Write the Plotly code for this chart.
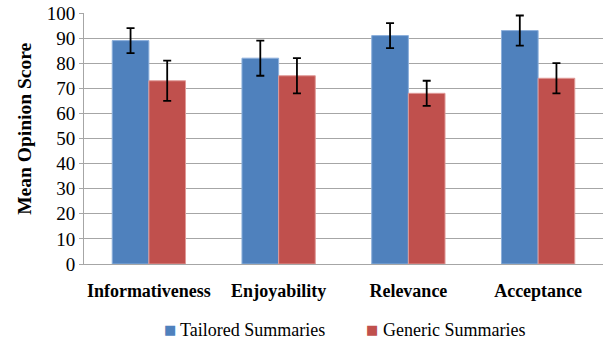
import plotly.graph_objects as go

categories = ["Informativeness", "Enjoyability", "Relevance", "Acceptance"]
series_names = ["Tailored Summaries", "Generic Summaries"]
tailored = [89, 82, 91, 93]
tailored_err = [5, 7, 5, 6]
generic = [73, 75, 68, 74]
generic_err = [8, 7, 5, 6]
y_ticks = list(range(0, 101, 10))

SERIF = "Liberation Serif"
COLORS = ["#4F81BD", "#C0504D"]
EDGES = ["#8DB0DC", "#E09A98"]

fig = go.Figure()
for name, vals, errs, col, edge in zip(series_names, [tailored, generic], [tailored_err, generic_err], COLORS, EDGES):
    fig.add_trace(go.Bar(
        name=name, x=categories, y=vals, showlegend=False,
        marker=dict(color=col, line=dict(color=edge, width=1)),
        error_y=dict(type="data", array=errs, color="black", thickness=1.8, width=4),
    ))

fig.add_annotation(
    text="<b>Mean Opinion Score</b>", textangle=-90,
    xref="paper", yref="paper", x=-0.114, y=0.538,
    xanchor="center", yanchor="middle", showarrow=False,
    font=dict(size=19.5, family=SERIF, color="black"),
)

# legend drawn as text (square swatch + label)
PLOT_L, PLOT_W = 84, 519
legend_y = -0.263
for name, col, sq_px, tx_px in zip(series_names, COLORS, [170, 372], [178, 381]):
    fig.add_annotation(text="■", xref="paper", yref="paper",
                       x=(sq_px - PLOT_L) / PLOT_W, y=legend_y + 0.004,
                       xanchor="center", yanchor="middle", showarrow=False,
                       font=dict(size=13, family="DejaVu Sans", color=col))
    fig.add_annotation(text=name, xref="paper", yref="paper",
                       x=(tx_px - PLOT_L) / PLOT_W, y=legend_y,
                       xanchor="left", yanchor="middle", showarrow=False,
                       font=dict(size=18, family=SERIF, color="black"))

fig.update_layout(
    width=607, height=341,
    margin=dict(l=84, r=4, t=13, b=77, autoexpand=False),
    barmode="group", bargap=0.435, bargroupgap=0,
    plot_bgcolor="white", paper_bgcolor="white",
    font=dict(family=SERIF, color="black", size=18),
    showlegend=False,
    xaxis=dict(showline=True, linecolor="#A6A6A6", linewidth=1, ticks="",
               tickfont=dict(size=18, family=SERIF, color="black", weight="bold"),
               ticklabelstandoff=10, automargin=False),
    yaxis=dict(range=[0, 100], tickvals=y_ticks, showgrid=True, gridcolor="#A6A6A6", gridwidth=1,
               showline=True, linecolor="#A6A6A6", linewidth=1, ticks="outside", ticklen=4,
               tickcolor="#A6A6A6", tickfont=dict(size=19, family=SERIF, color="black"),
               zeroline=False, automargin=False),
)

fig.write_html("out.html", config={"displayModeBar": False},
               post_script="document.body.style.margin='0px';")
